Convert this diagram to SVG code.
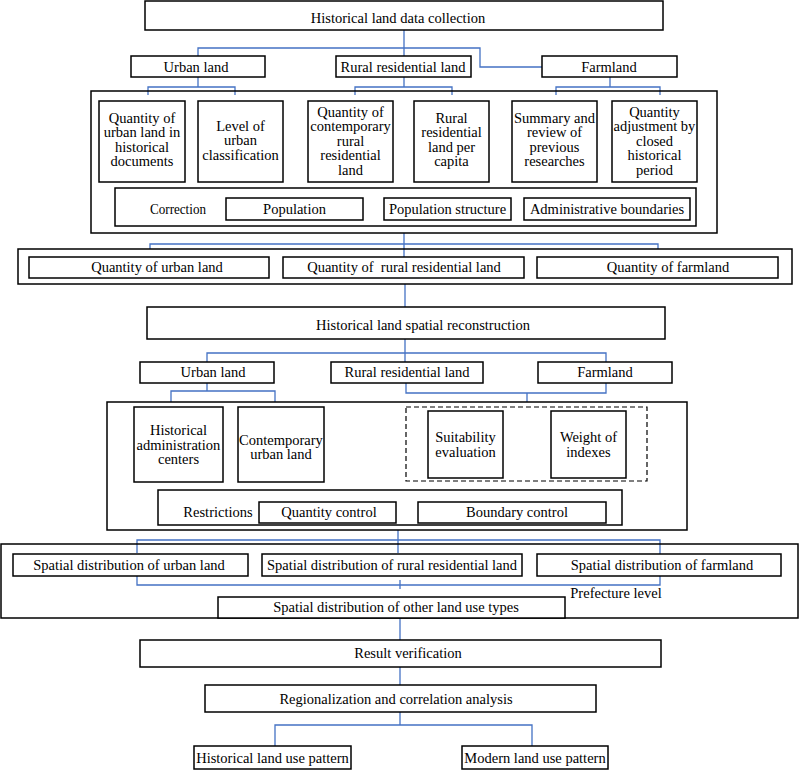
<svg xmlns="http://www.w3.org/2000/svg" width="800" height="770" viewBox="0 0 800 770">
<style>
.b{fill:#fff;stroke:#000;stroke-width:1.5}
.o{fill:none;stroke:#000;stroke-width:1.5}
.d{fill:none;stroke:#000;stroke-width:1.2;stroke-dasharray:5,3}
.c{fill:none;stroke:#4472c4;stroke-width:1.3}
text{font-family:"Liberation Serif","Times New Roman",serif;font-size:14.5px;fill:#000;text-anchor:middle}
.l{text-anchor:start}
</style>
<rect width="800" height="770" fill="#fff"/>
<g id="connectors">
<path class="c" d="M404,30 V56 M198,56 V48 H480 V67 H543"/>
<path class="c" d="M198,77 V87 M148,95 V87 H235 V95"/>
<path class="c" d="M404,77 V87 M355,95 V87 H452 V95"/>
<path class="c" d="M610,77 V87 M556,95 V87 H660 V95"/>
<path class="c" d="M404,233 V257 M150,249 V244 H658 V249"/>
<path class="c" d="M405,284 V307"/>
<path class="c" d="M405,339 V362 M207,362 V353 H606 V362"/>
<path class="c" d="M207,383 V391 M171,402 V391 H275 V402"/>
<path class="c" d="M406,383 V393 H606 V383 M527,393 V402"/>
<path class="c" d="M398,530 V553 M137,553 V540 H660 V555"/>
<path class="c" d="M137,576 V585 H660 V576 M400,580 V589"/>
<path class="c" d="M400,618 V640"/>
<path class="c" d="M400,667 V685"/>
<path class="c" d="M400,712 V725 M275,746 V725 H532 V746"/>
</g>
<g id="n-title"><rect class="b" x="145" y="1" width="518" height="29"/><text x="398" y="23">Historical land data collection</text></g>
<g id="n-urban1"><rect class="b" x="131" y="56" width="134" height="21"/><text x="196" y="71.5">Urban land</text></g>
<g id="n-rural1"><rect class="b" x="336" y="56" width="135" height="21"/><text x="403" y="71.5">Rural residential land</text></g>
<g id="n-farm1"><rect class="b" x="542" y="56" width="135" height="21"/><text x="609" y="71.5">Farmland</text></g>
<g id="g-box1">
<rect class="o" x="91" y="91" width="626" height="142"/>
<g id="n-a"><rect class="b" x="99" y="101" width="86" height="81"/><text x="142" y="122.5">Quantity of</text><text x="142" y="137">urban land in</text><text x="142" y="151.5">historical</text><text x="142" y="166">documents</text></g>
<g id="n-b"><rect class="b" x="198" y="101" width="85" height="81"/><text x="240.5" y="130.5">Level of</text><text x="240.5" y="145">urban</text><text x="240.5" y="159.5">classification</text></g>
<g id="n-c"><rect class="b" x="308" y="101" width="85" height="81"/><text x="350.5" y="116.5">Quantity of</text><text x="350.5" y="131">contemporary</text><text x="350.5" y="145.5">rural</text><text x="350.5" y="160">residential</text><text x="350.5" y="174.5">land</text></g>
<g id="n-d"><rect class="b" x="414" y="101" width="75" height="81"/><text x="451.5" y="122.5">Rural</text><text x="451.5" y="137">residential</text><text x="451.5" y="151.5">land per</text><text x="451.5" y="166">capita</text></g>
<g id="n-e"><rect class="b" x="512" y="101" width="85" height="81"/><text x="554.5" y="122.5">Summary and</text><text x="554.5" y="137">review of</text><text x="554.5" y="151.5">previous</text><text x="554.5" y="166">researches</text></g>
<g id="n-f"><rect class="b" x="612" y="101" width="85" height="81"/><text x="654.5" y="116.5">Quantity</text><text x="654.5" y="131">adjustment by</text><text x="654.5" y="145.5">closed</text><text x="654.5" y="160">historical</text><text x="654.5" y="174.5">period</text></g>
<g id="n-correction"><rect class="b" x="115" y="188" width="581" height="38"/><text x="178" y="213.5" textLength="56" lengthAdjust="spacingAndGlyphs">Correction</text></g>
<g id="n-pop"><rect class="b" x="226" y="198" width="137" height="22"/><text x="294.5" y="213.5">Population</text></g>
<g id="n-popstruct"><rect class="b" x="384" y="198" width="127" height="22"/><text x="447.5" y="213.5">Population structure</text></g>
<g id="n-admin"><rect class="b" x="524" y="198" width="166" height="22"/><text x="607" y="213.5">Administrative boundaries</text></g>
</g>
<g id="g-quantity">
<rect class="o" x="18" y="249" width="774" height="35"/>
<g id="n-qurban"><rect class="b" x="29" y="257" width="240" height="21"/><text x="157" y="272">Quantity of urban land</text></g>
<g id="n-qrural"><rect class="b" x="283" y="257" width="241" height="21"/><text x="404" y="272" xml:space="preserve">Quantity of  rural residential land</text></g>
<g id="n-qfarm"><rect class="b" x="537" y="257" width="241" height="21"/><text x="668" y="272">Quantity of farmland</text></g>
</g>
<g id="n-recon"><rect class="b" x="147" y="307" width="518" height="32"/><text x="423" y="330">Historical land spatial reconstruction</text></g>
<g id="n-urban2"><rect class="b" x="140" y="362" width="134" height="21"/><text x="213" y="376.5">Urban land</text></g>
<g id="n-rural2"><rect class="b" x="331" y="362" width="152" height="21"/><text x="407" y="376.5">Rural residential land</text></g>
<g id="n-farm2"><rect class="b" x="538" y="362" width="134" height="21"/><text x="605" y="376.5">Farmland</text></g>
<g id="g-box2">
<rect class="o" x="107" y="402" width="580" height="128"/>
<g id="n-hac"><rect class="b" x="134" y="407" width="89" height="75"/><text x="178.5" y="435">Historical</text><text x="178.5" y="449.5">administration</text><text x="178.5" y="464">centers</text></g>
<g id="n-cul"><rect class="b" x="238" y="407" width="86" height="75"/><text x="281" y="444.5">Contemporary</text><text x="281" y="459">urban land</text></g>
<rect class="d" x="406" y="407" width="241" height="74"/>
<g id="n-suit"><rect class="b" x="428" y="411" width="75" height="67"/><text x="465.5" y="442">Suitability</text><text x="465.5" y="456.5">evaluation</text></g>
<g id="n-weight"><rect class="b" x="551" y="411" width="75" height="67"/><text x="588.5" y="442">Weight of</text><text x="588.5" y="456.5">indexes</text></g>
<g id="n-restr"><rect class="b" x="158" y="490" width="464" height="35"/><text x="218" y="516.5">Restrictions</text></g>
<g id="n-qc"><rect class="b" x="259" y="502" width="137" height="21"/><text x="329" y="516.5">Quantity control</text></g>
<g id="n-bc"><rect class="b" x="418" y="502" width="188" height="21"/><text x="517" y="516.5">Boundary control</text></g>
</g>
<g id="g-spatial">
<rect class="o" x="1" y="544" width="797" height="74"/>
<g id="n-surban"><rect class="b" x="13" y="554" width="235" height="22"/><text x="129" y="570">Spatial distribution of urban land</text></g>
<g id="n-srural"><rect class="b" x="262" y="554" width="260" height="22"/><text x="392" y="570">Spatial distribution of rural residential land</text></g>
<g id="n-sfarm"><rect class="b" x="537" y="554" width="244" height="22"/><text x="662" y="570">Spatial distribution of farmland</text></g>
<text x="616" y="598">Prefecture level</text>
<g id="n-sother"><rect class="b" x="218" y="597" width="347" height="21"/><text x="396" y="612">Spatial distribution of other land use types</text></g>
</g>
<g id="n-result"><rect class="b" x="140" y="640" width="521" height="27"/><text x="408" y="658">Result verification</text></g>
<g id="n-region"><rect class="b" x="205" y="685" width="391" height="27"/><text x="396" y="704">Regionalization and correlation analysis</text></g>
<g id="n-hist"><rect class="b" x="194" y="746" width="157" height="23"/><text x="272.5" y="763">Historical land use pattern</text></g>
<g id="n-modern"><rect class="b" x="462" y="746" width="146" height="23"/><text x="535" y="763">Modern land use pattern</text></g>
</svg>
